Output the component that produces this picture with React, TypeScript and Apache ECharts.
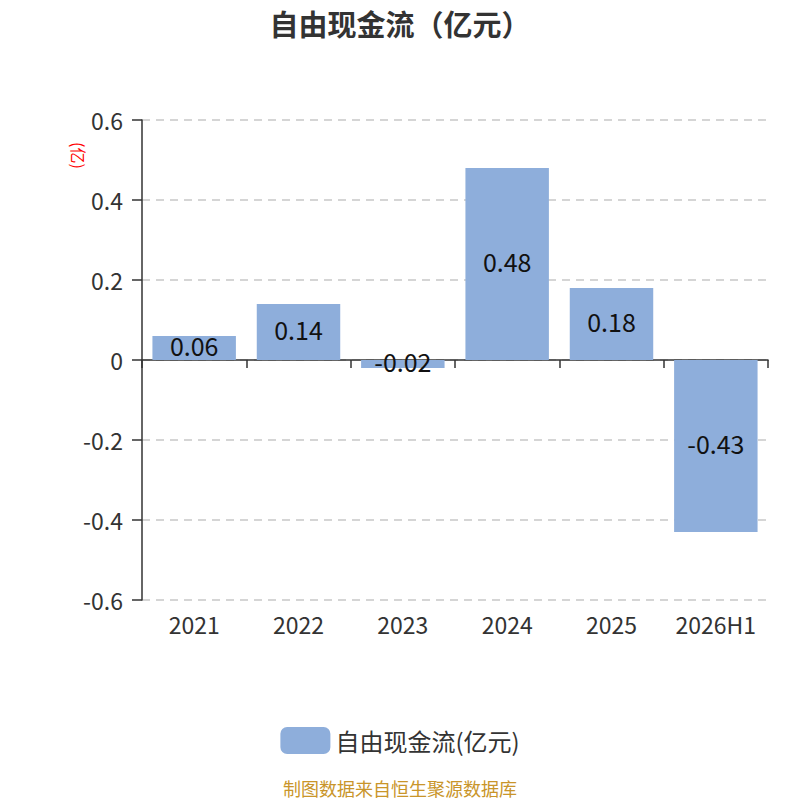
import React, { useEffect, useRef } from "react";
import * as echarts from "echarts";

const categories = ["2021", "2022", "2023", "2024", "2025", "2026H1"];
const values = [0.06, 0.14, -0.02, 0.48, 0.18, -0.43];
const seriesName = "自由现金流(亿元)";
const titleText = "自由现金流（亿元）";
const unitText = "(亿)";
const footerText = "制图数据来自恒生聚源数据库";

const FONT = "'Noto Sans CJK SC', 'Noto Sans', sans-serif";

export default function App() {
  const ref = useRef<HTMLDivElement>(null);
  useEffect(() => {
    if (!ref.current) return;
    const chart = echarts.init(ref.current, undefined, { renderer: "svg" });
    chart.setOption({
      animation: false,
      textStyle: { fontFamily: FONT },
      title: {
        text: titleText,
        left: "center",
        top: 3,
        textStyle: { fontSize: 29, fontWeight: "bold", color: "#333", fontFamily: FONT },
      },
      grid: { left: 142, right: 32, top: 120, bottom: 200, containLabel: false },
      legend: {
        top: 722,
        left: "center",
        itemWidth: 50,
        itemHeight: 27,
        itemGap: 10,
        icon: "roundRect",
        textStyle: { fontSize: 24, color: "#333", fontFamily: FONT },
        data: [seriesName],
      },
      graphic: [
        {
          type: "text",
          x: 87,
          y: 142,
          rotation: -Math.PI / 2,
          style: { text: unitText, fill: "#ff0000", fontSize: 16, fontFamily: FONT },
        },
        {
          type: "text",
          left: "center",
          top: 779,
          style: { text: footerText, fill: "#c9952a", fontSize: 18, fontFamily: FONT },
        },
      ],
      xAxis: {
        type: "category",
        data: categories,
        position: "bottom",
        axisLine: { onZero: true, lineStyle: { color: "#333", width: 1.5 } },
        axisTick: { show: true, interval: 0, length: 8, lineStyle: { color: "#333", width: 1.5 } },
        axisLabel: { interval: 0, fontSize: 23, color: "#333", fontFamily: FONT, margin: 12 },
      },
      yAxis: {
        type: "value",
        min: -0.6,
        max: 0.6,
        interval: 0.2,
        axisLine: { show: true, lineStyle: { color: "#333", width: 1.5 } },
        axisTick: { show: true, length: 10, lineStyle: { color: "#333", width: 1.5 } },
        axisLabel: { fontSize: 23, color: "#333", fontFamily: FONT, margin: 19 },
        splitLine: { show: true, lineStyle: { color: "#c8c8c8", type: [8, 6], width: 1.5 } },
      },
      series: [
        {
          name: seriesName,
          type: "bar",
          data: values,
          barWidth: "80%",
          itemStyle: { color: "#8eaedb" },
          label: {
            show: true,
            position: "inside",
            offset: [0, -3],
            fontSize: 25,
            color: "#111",
            fontFamily: FONT,
          },
        },
      ],
    });
    return () => chart.dispose();
  }, []);
  return (
    <div
      ref={ref}
      style={{ position: "absolute", left: 0, top: 0, width: 800, height: 800 }}
    />
  );
}
